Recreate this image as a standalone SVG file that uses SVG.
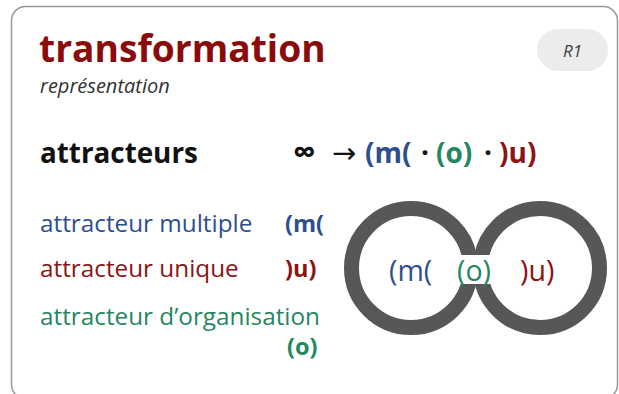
<svg xmlns="http://www.w3.org/2000/svg" width="619" height="394" viewBox="0 0 619 394">
  <style>
    text { font-family: "Open Sans", "Noto Sans", sans-serif; }
    .title { font-size: 37.2px; font-weight: 700; fill: #8b0a0a; }
    .sub { font-size: 20px; font-style: italic; fill: #333; }
    .badge { font-size: 17px; font-style: italic; fill: #444; }
    .head { font-size: 27.8px; font-weight: 700; fill: #111; }
    .formula { font-size: 28px; font-weight: 700; }
    .arrow { font-family: "DejaVu Sans", sans-serif; font-weight: 400; font-size: 29px; }
    .leg { font-size: 24.3px; }
    .sym { font-size: 23.5px; font-weight: 700; }
    .ring { font-size: 28.5px; }
    .blue { fill: #2d4f8e; }
    .red { fill: #8b1515; }
    .green { fill: #24875f; }
    .dark { fill: #111; }
  </style>

  <g id="card">
    <rect x="11.5" y="6.5" width="606" height="392" rx="14" fill="#fff" stroke="#999" stroke-width="1.5"/>
  </g>

  <g id="header">
    <text class="title" x="39" y="62">transformation</text>
    <text class="sub" x="40" y="93">représentation</text>
  </g>

  <g id="badge-R1">
    <rect x="537" y="29" width="71" height="42" rx="21" fill="#ececec"/>
    <text class="badge" x="572.5" y="56.5" text-anchor="middle">R1</text>
  </g>

  <g id="attracteurs-row">
    <text class="head" x="40" y="163">attracteurs</text>
    <text class="formula" y="163"><tspan class="dark" x="293" font-size="32">∞</tspan><tspan class="dark arrow" x="332">→</tspan><tspan class="blue" x="365">(m(</tspan><tspan class="dark" x="421">·</tspan><tspan class="green" x="436">(o)</tspan><tspan class="dark" x="484">·</tspan><tspan class="red" x="499">)u)</tspan></text>
  </g>

  <g id="legend">
    <g id="legend-multiple">
      <text class="leg blue" x="40" y="232">attracteur multiple</text>
      <text class="sym blue" x="285" y="232">(m(</text>
    </g>
    <g id="legend-unique">
      <text class="leg red" x="40" y="277">attracteur unique</text>
      <text class="sym red" x="285" y="277">)u)</text>
    </g>
    <g id="legend-organisation">
      <text class="leg green" x="40" y="325">attracteur d’organisation</text>
      <text class="sym green" x="287" y="355">(o)</text>
    </g>
  </g>

  <g id="infinity">
    <circle cx="411" cy="268" r="59.5" fill="none" stroke="#575757" stroke-width="15"/>
    <circle cx="540" cy="268" r="59.5" fill="none" stroke="#575757" stroke-width="15"/>
    <rect x="458" y="255" width="36" height="29" fill="#fff"/>
    <text class="ring blue" x="389" y="281">(m(</text>
    <text class="ring green" x="457" y="281">(o)</text>
    <text class="ring red" x="520" y="281">)u)</text>
  </g>
</svg>
